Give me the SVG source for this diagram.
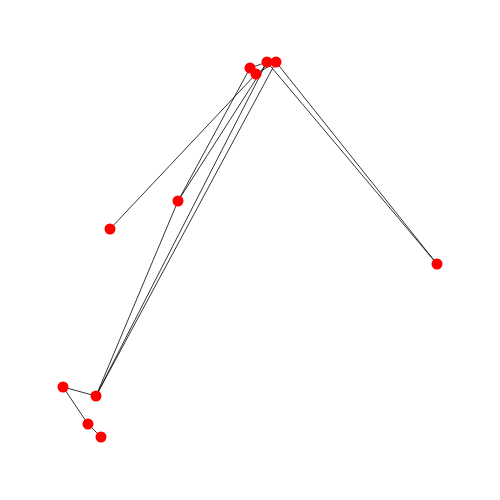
<svg xmlns="http://www.w3.org/2000/svg" width="500" height="500" viewBox="0 0 500 500">
<style>
.e{stroke:#000;stroke-width:0.8;fill:none}
.n{fill:#ff0000}
</style>
<rect width="500" height="500" fill="#fff"/>
<g id="edges">
<line class="e" x1="110" y1="229" x2="256" y2="74"/>
<line class="e" x1="178" y1="201" x2="250" y2="68"/>
<line class="e" x1="178" y1="201" x2="267" y2="62"/>
<line class="e" x1="96" y1="396" x2="178" y2="201"/>
<line class="e" x1="96" y1="396" x2="267" y2="62"/>
<line class="e" x1="96" y1="396" x2="276" y2="62"/>
<line class="e" x1="437" y1="264" x2="267" y2="62"/>
<line class="e" x1="437" y1="264" x2="276" y2="62"/>
<line class="e" x1="250" y1="68" x2="267" y2="62"/>
<line class="e" x1="256" y1="74" x2="276" y2="62"/>
<line class="e" x1="63" y1="387" x2="96" y2="396"/>
<line class="e" x1="63" y1="387" x2="88" y2="424"/>
<line class="e" x1="88" y1="424" x2="101" y2="437"/>
</g>
<g id="nA"><circle class="n" cx="250" cy="68" r="5.5"/></g>
<g id="nB"><circle class="n" cx="256" cy="74" r="5.5"/></g>
<g id="nC"><circle class="n" cx="267" cy="62" r="5.5"/></g>
<g id="nD"><circle class="n" cx="276" cy="62" r="5.5"/></g>
<g id="nE"><circle class="n" cx="178" cy="201" r="5.5"/></g>
<g id="nF"><circle class="n" cx="110" cy="229" r="5.5"/></g>
<g id="nG"><circle class="n" cx="437" cy="264" r="5.5"/></g>
<g id="nH"><circle class="n" cx="63" cy="387" r="5.5"/></g>
<g id="nI"><circle class="n" cx="96" cy="396" r="5.5"/></g>
<g id="nJ"><circle class="n" cx="88" cy="424" r="5.5"/></g>
<g id="nK"><circle class="n" cx="101" cy="437" r="5.5"/></g>
</svg>
